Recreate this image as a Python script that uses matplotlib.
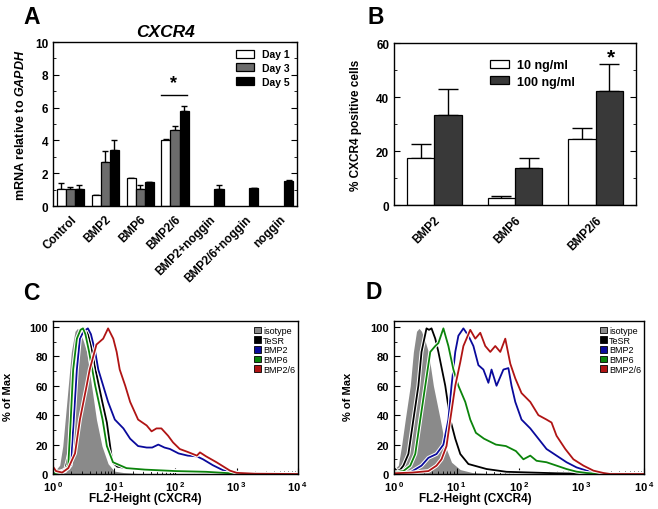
import numpy as np
import matplotlib
matplotlib.use('Agg')
import matplotlib.pyplot as plt
import matplotlib.patheffects as pe
from matplotlib.patches import Patch
from matplotlib.ticker import MultipleLocator, LogLocator, FixedLocator, FixedFormatter, NullFormatter

plt.rcParams['font.family'] = ['Liberation Sans', 'DejaVu Sans']
plt.rcParams['font.weight'] = 'bold'
plt.rcParams['axes.labelweight'] = 'bold'
plt.rcParams['mathtext.fontset'] = 'custom'
plt.rcParams['mathtext.rm'] = 'Liberation Sans:bold'
plt.rcParams['mathtext.it'] = 'Liberation Sans:italic:bold'
plt.rcParams['mathtext.default'] = 'rm'
plt.rcParams['axes.linewidth'] = 1.0

nan = np.nan

# ---- panel A: qPCR, mRNA relative to GAPDH
groups_a = ['Control', 'BMP2', 'BMP6', 'BMP2/6', 'BMP2+noggin', 'BMP2/6+noggin', 'noggin']
day1 = [1.03, 0.65, 1.70, 4.05, nan, nan, nan]
day1_err = [0.40, 0.0, 0.02, 0.05, 0, 0, 0]
day3 = [1.03, 2.67, 1.03, 4.66, nan, nan, nan]
day3_err = [0.12, 0.66, 0.24, 0.20, 0, 0, 0]
day5 = [1.07, 3.43, 1.44, 5.79, 1.03, 1.09, 1.54]
day5_err = [0.20, 0.57, 0.03, 0.30, 0.23, 0.03, 0.02]

# ---- panel B: % CXCR4 positive cells
groups_b = ['BMP2', 'BMP6', 'BMP2/6']
dose_10 = [17.4, 2.7, 24.4]
dose_10_err = [5.1, 0.6, 4.1]
dose_100 = [33.4, 13.6, 42.3]
dose_100_err = [9.7, 3.7, 10.1]

# ---- panel C: flow histograms (x as log10 of FL2-Height, y as % of max)
c_iso_x = [0, 0.05, 0.11, 0.16, 0.20, 0.25, 0.30, 0.36, 0.40, 0.44, 0.50, 0.55, 0.63, 0.71, 0.80, 0.90, 1.0, 1.15, 1.4, 4.0]
c_iso_y = [2, 3, 6, 19, 37, 60, 83, 97, 99, 97, 90, 83, 60, 37, 19, 7, 2, 1, 0.3, 0]
c_tesr_x = [0, 0.1, 0.2, 0.27, 0.31, 0.36, 0.42, 0.5, 0.56, 0.62, 0.7, 0.8, 0.88, 0.93, 0.97, 1.05, 1.2, 1.5, 1.8, 2.2, 2.6, 3.0, 4.0]
c_tesr_y = [0.5, 1, 3, 15, 50, 80, 94, 99, 97, 88, 70, 50, 35, 20, 8, 5, 4, 3, 2.5, 1.5, 1, 0.3, 0]
c_bmp2_x = [0, 0.15, 0.25, 0.29, 0.34, 0.39, 0.44, 0.5, 0.57, 0.62, 0.69, 0.74, 0.82, 0.90, 1.01, 1.15, 1.26, 1.39, 1.53, 1.62, 1.72, 1.82, 1.91, 2.05, 2.2, 2.35, 2.45, 2.61, 2.78, 3.0, 3.3, 4.0]
c_bmp2_y = [0.5, 2, 4, 6, 37, 71, 92, 97, 99, 95, 83, 71, 60, 49, 37, 31, 24, 19, 18, 18, 20, 18, 17, 14, 12.5, 12, 10, 6, 2.5, 1, 0.3, 0]
c_bmp6_x = [0, 0.1, 0.2, 0.25, 0.29, 0.33, 0.39, 0.45, 0.49, 0.53, 0.59, 0.69, 0.81, 0.88, 0.98, 1.2, 1.5, 2.0, 2.5, 2.9, 3.2, 4.0]
c_bmp6_y = [0.5, 1, 2, 6, 37, 71, 92, 98, 99, 95, 83, 60, 37, 19, 8, 4, 3, 2, 1.5, 0.5, 0, 0]
c_bmp26_x = [0, 0.05, 0.15, 0.25, 0.36, 0.44, 0.55, 0.60, 0.71, 0.82, 0.90, 0.985, 1.04, 1.09, 1.18, 1.26, 1.39, 1.53, 1.61, 1.69, 1.77, 1.88, 1.96, 2.07, 2.2, 2.35, 2.4, 2.5, 2.67, 2.89, 3.0, 3.3, 4.0]
c_bmp26_y = [5, 2, 1, 4, 14, 37, 60, 71, 88, 92, 99, 92, 83, 71, 60, 49, 37, 33, 29, 31, 31, 26, 21.5, 17, 15, 12.5, 14.7, 12, 8, 2.3, 0.8, 0.2, 0]

# ---- panel D
d_iso_x = [0, 0.07, 0.12, 0.18, 0.26, 0.31, 0.36, 0.40, 0.44, 0.50, 0.55, 0.63, 0.74, 0.82, 0.92, 1.06, 1.25, 1.5, 4.0]
d_iso_y = [3, 6, 19, 37, 60, 83, 97, 99, 97, 90, 83, 60, 37, 19, 8, 3, 1, 0.3, 0]
d_tesr_x = [0, 0.05, 0.10, 0.15, 0.23, 0.31, 0.39, 0.44, 0.52, 0.56, 0.60, 0.66, 0.71, 0.82, 0.90, 0.98, 1.06, 1.19, 1.48, 1.80, 2.2, 2.6, 3.0, 4.0]
d_tesr_y = [4, 2, 3, 5.7, 13.6, 37, 60, 83, 99, 98, 99, 92, 83, 60, 37, 24, 13.6, 6.8, 3.4, 1.5, 1, 0.5, 0.2, 0]
d_bmp2_x = [0, 0.26, 0.44, 0.55, 0.68, 0.79, 0.87, 0.92, 0.98, 1.03, 1.11, 1.19, 1.27, 1.35, 1.43, 1.51, 1.56, 1.64, 1.75, 1.83, 1.88, 1.94, 2.04, 2.18, 2.31, 2.44, 2.6, 2.76, 2.92, 3.08, 3.24, 3.4, 4.0]
d_bmp2_y = [0, 1.1, 5.7, 11, 13.6, 20, 37, 60, 83, 94, 99, 94, 87, 74, 71, 62, 71, 60, 71, 72, 60, 49, 37, 31, 24, 17, 12.5, 8, 4.5, 2.3, 1, 0, 0]
d_bmp6_x = [0, 0.15, 0.26, 0.34, 0.42, 0.50, 0.58, 0.66, 0.71, 0.79, 0.87, 0.95, 1.03, 1.14, 1.22, 1.31, 1.44, 1.63, 1.79, 1.95, 2.07, 2.18, 2.28, 2.44, 2.60, 2.76, 2.92, 3.08, 3.3, 4.0]
d_bmp6_y = [1, 2, 5.7, 13.6, 37, 60, 83, 87, 89, 99, 87, 71, 60, 49, 37, 28, 24, 20, 19, 15.6, 10, 12.5, 9, 8, 5.7, 3.4, 1.6, 0.7, 0, 0]
d_bmp26_x = [0, 0.3, 0.55, 0.68, 0.76, 0.84, 0.90, 0.98, 1.06, 1.11, 1.16, 1.22, 1.30, 1.38, 1.46, 1.54, 1.62, 1.70, 1.78, 1.86, 1.94, 2.04, 2.18, 2.31, 2.44, 2.52, 2.6, 2.74, 2.87, 3.03, 3.19, 3.35, 3.46, 4.0]
d_bmp26_y = [0.5, 1, 2, 5.7, 10, 19, 37, 60, 76, 87, 92, 98, 92, 96, 87, 83, 87, 83, 92, 75, 65, 55, 49, 40, 37, 35, 26, 17, 10, 5.7, 2.3, 0.7, 0, 0]

flow_labels = ['isotype', 'TeSR', 'BMP2', 'BMP6', 'BMP2/6']
flow_colors = ['#8a8a8a', '#000000', '#0a0a9c', '#0b840b', '#b01414']

fig = plt.figure(figsize=(6.58, 5.10), dpi=100)

# ================= A
axA = fig.add_axes([0.0805, 0.594, 0.371, 0.3216])
xa = np.arange(len(groups_a))
w = 0.26
for k, (vals, errs, col, lab) in enumerate([(day1, day1_err, 'white', 'Day 1'),
                                             (day3, day3_err, '#6c6c6c', 'Day 3'),
                                             (day5, day5_err, 'black', 'Day 5')]):
    pos = xa + (k - 1) * w
    axA.bar(pos, vals, w, color=col, edgecolor='black', linewidth=0.9, label=lab, zorder=2)
    axA.errorbar(pos, vals, yerr=[np.zeros(len(errs)), errs], fmt='none',
                 ecolor='black', elinewidth=1.0, capsize=2, capthick=1.0, zorder=1)
axA.set_xlim(-0.5, 6.5)
axA.set_ylim(0, 10)
axA.set_xticks(xa)
axA.set_xticklabels(groups_a, rotation=45, ha='right', rotation_mode='anchor', fontsize=8.5)
axA.tick_params(axis='x', length=0, pad=5)
axA.yaxis.set_major_locator(MultipleLocator(2))
axA.yaxis.set_minor_locator(MultipleLocator(1))
axA.tick_params(axis='y', which='both', direction='in', right=True, labelsize=8.5)
axA.tick_params(axis='y', which='major', length=4)
axA.tick_params(axis='y', which='minor', length=2.5)
axA.set_ylabel('mRNA relative to $\\mathit{GAPDH}$', fontsize=9)
axA.yaxis.set_label_coords(-0.107, 0.5)
axA.plot([2.6, 3.35], [6.78, 6.78], color='black', lw=1.0)
axA.text(2.97, 7.0, '*', ha='center', va='bottom', fontsize=13)
axA.legend(loc='upper right', fontsize=7.5, frameon=False, handlelength=1.7, handleheight=0.8,
           handletextpad=0.8, labelspacing=0.35, borderaxespad=0.3)
fig.text(166 / 658, 0.928, 'CXCR4', ha='center', va='baseline', fontsize=12.5, style='italic')

# ================= B
axB = fig.add_axes([0.5988, 0.596, 0.3678, 0.3176])
xb = np.arange(len(groups_b))
wb = 0.34
axB.bar(xb - wb / 2, dose_10, wb, color='white', edgecolor='black', linewidth=0.9, label='10 ng/ml', zorder=2)
axB.errorbar(xb - wb / 2, dose_10, yerr=[np.zeros(3), dose_10_err], fmt='none', ecolor='black',
             elinewidth=1.0, capsize=7, capthick=1.0, zorder=1)
axB.bar(xb + wb / 2, dose_100, wb, color='#393939', edgecolor='black', linewidth=0.9, label='100 ng/ml', zorder=2)
axB.errorbar(xb + wb / 2, dose_100, yerr=[np.zeros(3), dose_100_err], fmt='none', ecolor='black',
             elinewidth=1.0, capsize=7, capthick=1.0, zorder=1)
axB.set_xlim(-0.5, 2.5)
axB.set_ylim(0, 60)
axB.set_xticks(xb)
axB.set_xticklabels(groups_b, rotation=45, ha='right', rotation_mode='anchor', fontsize=8.5)
axB.tick_params(axis='x', length=0, pad=6)
axB.yaxis.set_major_locator(MultipleLocator(20))
axB.yaxis.set_minor_locator(MultipleLocator(10))
axB.tick_params(axis='y', which='both', direction='in', right=True, labelsize=8.5)
axB.tick_params(axis='y', which='major', length=4)
axB.tick_params(axis='y', which='minor', length=2.5)
axB.set_ylabel('% CXCR4 positive cells', fontsize=8.5)
axB.yaxis.set_label_coords(-0.132, 0.5)
axB.text(2.19, 51.5, '*', ha='center', va='bottom', fontsize=15)
axB.legend(loc='upper left', bbox_to_anchor=(0.35, 0.97), fontsize=9, frameon=False,
           handlelength=1.5, handleheight=0.6, handletextpad=0.7, labelspacing=0.35)


# ================= C / D
def flow_panel(ax, curves, label_x):
    iso_x, iso_y = curves[0]
    ax.fill_between(10 ** np.array(iso_x), 0, iso_y, color=flow_colors[0], lw=0, zorder=1)
    for (cx, cy), col in zip(curves[1:], flow_colors[1:]):
        ax.plot(10 ** np.array(cx), cy, color=col, lw=1.3, zorder=2,
                path_effects=[pe.Stroke(linewidth=2.8, foreground='white'), pe.Normal()])
    ax.set_xscale('log')
    ax.set_xlim(1, 1e4)
    ax.set_ylim(0, 104)
    ax.xaxis.set_major_locator(FixedLocator([1, 10, 100, 1000, 10000]))
    ax.xaxis.set_major_formatter(FixedFormatter(['$10^{\\ 0}$', '$10^{\\ 1}$', '$10^{\\ 2}$',
                                                 '$10^{\\ 3}$', '$10^{\\ 4}$']))
    ax.xaxis.set_minor_locator(LogLocator(base=10, subs=np.arange(2, 10), numticks=20))
    ax.xaxis.set_minor_formatter(NullFormatter())
    ax.yaxis.set_major_locator(MultipleLocator(20))
    ax.yaxis.set_minor_locator(MultipleLocator(10))
    ax.tick_params(which='both', direction='in', labelsize=8)
    ax.tick_params(which='major', length=4)
    ax.tick_params(which='minor', length=2.5)
    ax.set_ylabel('% of Max', fontsize=8)
    ax.yaxis.set_label_coords(-0.163, 0.51)
    ax.set_xlabel('FL2-Height (CXCR4)', fontsize=8.5)
    ax.xaxis.set_label_coords(label_x, -0.118)
    handles = [Patch(facecolor=c, edgecolor='black', linewidth=0.6) for c in flow_colors]
    ax.legend(handles, flow_labels, loc='upper right', bbox_to_anchor=(1.0, 0.985),
              frameon=False, handlelength=0.75, handleheight=0.75, handletextpad=0.25,
              labelspacing=0.08, borderaxespad=0.2, borderpad=0.1,
              prop={'size': 6.5, 'weight': 'normal'})


axC = fig.add_axes([0.0805, 0.0686, 0.3723, 0.3])
flow_panel(axC, [(c_iso_x, c_iso_y), (c_tesr_x, c_tesr_y), (c_bmp2_x, c_bmp2_y),
                 (c_bmp6_x, c_bmp6_y), (c_bmp26_x, c_bmp26_y)], 0.375)
axD = fig.add_axes([0.5988, 0.0686, 0.38, 0.3])
flow_panel(axD, [(d_iso_x, d_iso_y), (d_tesr_x, d_tesr_y), (d_bmp2_x, d_bmp2_y),
                 (d_bmp6_x, d_bmp6_y), (d_bmp26_x, d_bmp26_y)], 0.325)

for x, y, s in [(0.035, 0.953, 'A'), (0.558, 0.953, 'B'), (0.035, 0.412, 'C'), (0.555, 0.414, 'D')]:
    fig.text(x, y, s, fontsize=16.5, ha='left', va='baseline')

fig.savefig('out.png', dpi=100)
